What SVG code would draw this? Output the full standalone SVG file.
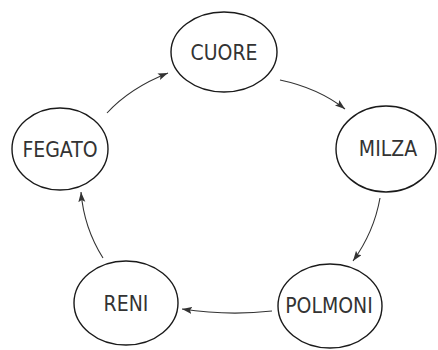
<svg xmlns="http://www.w3.org/2000/svg" width="438" height="350" viewBox="0 0 438 350">
<defs>
<style>
.node ellipse{fill:#fff;stroke:#1a1a1a;stroke-width:1.4}
.node text{font-family:"Liberation Sans Narrow","DejaVu Sans Condensed","Liberation Sans",sans-serif;font-size:21px;fill:#333;text-anchor:middle;dominant-baseline:central}
.edges path{fill:none;stroke:#333;stroke-width:1.1;marker-end:url(#ah)}
</style>
<marker id="ah" markerUnits="userSpaceOnUse" markerWidth="12" markerHeight="8" refX="10" refY="3.5" orient="auto">
<path d="M0,0 L10,3.5 L0,7 L2,3.5 z" fill="#333"/>
</marker>
</defs>
<rect width="438" height="350" fill="#fff"/>
<g class="edges">
<path d="M107,113 Q130,88 168,73"/>
<path d="M280,80 Q318,88 345,109"/>
<path d="M380,198 Q374,232 353,261"/>
<path d="M272,311 Q228,316 182,309"/>
<path d="M103,258 Q84,228 81,192"/>
</g>
<g id="cuore" class="node"><ellipse cx="224" cy="52" rx="53" ry="40"/><text x="224" y="53">CUORE</text></g>
<g id="milza" class="node"><ellipse cx="386" cy="149" rx="50" ry="43"/><text x="388" y="149">MILZA</text></g>
<g id="fegato" class="node"><ellipse cx="60" cy="149" rx="48" ry="41"/><text x="60" y="150">FEGATO</text></g>
<g id="reni" class="node"><ellipse cx="126" cy="303" rx="52" ry="42"/><text x="126" y="304">RENI</text></g>
<g id="polmoni" class="node"><ellipse cx="330" cy="306" rx="52" ry="42"/><text x="329" y="306">POLMONI</text></g>
</svg>
